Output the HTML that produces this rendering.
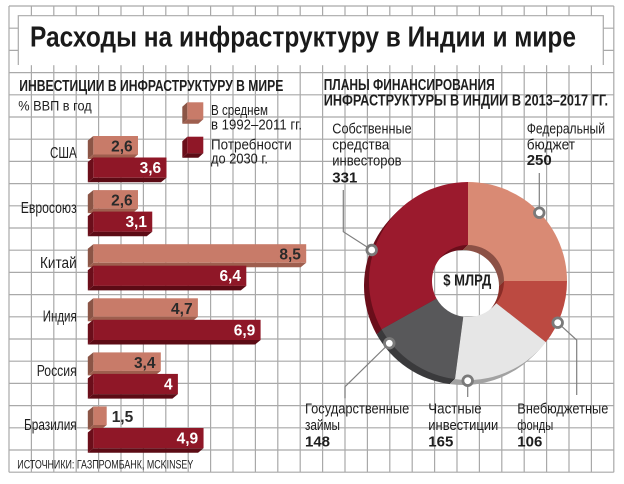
<!DOCTYPE html>
<html><head><meta charset="utf-8">
<style>
html,body{margin:0;padding:0;background:#fff;}
svg{display:block;}
text{font-family:"Liberation Sans","DejaVu Sans",sans-serif;fill:#1e1e1e;}
.b{font-weight:bold;}
</style></head>
<body>
<svg width="624" height="484" viewBox="0 0 624 484" xmlns="http://www.w3.org/2000/svg">
<rect width="624" height="484" fill="#fff"/>
<!-- grid -->
<path fill="none" stroke="#a9a9a9" stroke-width="1.2" d="
M9 6V472.2M31.4 6V472.2M53.8 6V472.2M76.2 6V472.2M98.6 6V472.2M121 6V472.2M143.4 6V472.2M165.8 6V472.2M188.2 6V472.2M210.6 6V472.2M233 6V472.2M255.4 6V472.2M277.8 6V472.2M300.2 6V472.2M322.6 6V472.2M345 6V472.2M367.4 6V472.2M389.8 6V472.2M412.2 6V472.2M434.6 6V472.2M457 6V472.2M479.4 6V472.2M501.8 6V472.2M524.2 6V472.2M546.6 6V472.2M569 6V472.2M591.4 6V472.2M613.8 6V472.2
M9 6H613.8M9 28.2H613.8M9 50.4H613.8M9 72.6H613.8M9 94.8H613.8M9 117H613.8M9 139.2H613.8M9 161.4H613.8M9 183.6H613.8M9 205.8H613.8M9 228H613.8M9 250.2H613.8M9 272.4H613.8M9 294.6H613.8M9 316.8H613.8M9 339H613.8M9 361.2H613.8M9 383.4H613.8M9 405.6H613.8M9 427.8H613.8M9 450H613.8M9 472.2H613.8"/>

<!-- title box -->
<rect x="18.3" y="15.7" width="585" height="49.5" fill="#fff"/>
<path d="M18.3 65V15.7H603.3V65" fill="none" stroke="#a9a9a9" stroke-width="1.2"/>
<text x="30" y="46.5" class="b" font-size="28.5" textLength="546" lengthAdjust="spacingAndGlyphs" style="fill:#1a1a1a">Расходы на инфраструктуру в Индии и мире</text>

<!-- headings -->
<text x="19.3" y="91" class="b" font-size="15.5" textLength="264" lengthAdjust="spacingAndGlyphs">ИНВЕСТИЦИИ В ИНФРАСТРУКТУРУ В МИРЕ</text>
<text x="18.3" y="110.5" font-size="13.5" textLength="73.4" lengthAdjust="spacingAndGlyphs">% ВВП в год</text>
<text x="323.7" y="90" class="b" font-size="15.5" textLength="171" lengthAdjust="spacingAndGlyphs">ПЛАНЫ ФИНАНСИРОВАНИЯ</text>
<text x="323.7" y="105.3" class="b" font-size="15.5" textLength="284.3" lengthAdjust="spacingAndGlyphs">ИНФРАСТРУКТУРЫ В ИНДИИ В 2013–2017 ГГ.</text>

<!-- legend -->
<rect x="187.3" y="102.3" width="16" height="17" fill="#c87b69"/>
<polygon points="187.3,102.3 182.3,106.8 182.3,123.8 187.3,119.3" fill="#8b5546"/>
<polygon points="187.3,119.3 203.3,119.3 198.3,123.8 182.3,123.8" fill="#9e5e4e"/>
<rect x="187.3" y="136.7" width="16" height="16.6" fill="#8f1727"/>
<polygon points="187.3,136.7 182.3,141.2 182.3,157.8 187.3,153.3" fill="#6b0e1a"/>
<polygon points="187.3,153.3 203.3,153.3 198.3,157.8 182.3,157.8" fill="#5c0b15"/>
<text x="211" y="115" font-size="15" textLength="57" lengthAdjust="spacingAndGlyphs">В среднем</text>
<text x="211" y="129.5" font-size="15" textLength="91" lengthAdjust="spacingAndGlyphs">в 1992–2011 гг.</text>
<text x="211" y="149.3" font-size="15" textLength="80.7" lengthAdjust="spacingAndGlyphs">Потребности</text>
<text x="211" y="163.3" font-size="15" textLength="57" lengthAdjust="spacingAndGlyphs">до 2030 г.</text>

<!-- bars -->
<g>
<rect x="93.3" y="136" width="44.7" height="18.5" fill="#c87b69"/>
<polygon points="93.3,136 87.8,140.5 87.8,159 93.3,154.5" fill="#8b5546"/>
<polygon points="93.3,154.5 138,154.5 132.5,159 87.8,159" fill="#9e5e4e"/>
<rect x="93.3" y="157.5" width="73.2" height="20.2" fill="#8f1727"/>
<polygon points="93.3,157.5 87.8,162 87.8,182.2 93.3,177.7" fill="#6b0e1a"/>
<polygon points="93.3,177.7 166.5,177.7 161,182.2 87.8,182.2" fill="#5c0b15"/>

<rect x="93.3" y="190.1" width="44.7" height="18.5" fill="#c87b69"/>
<polygon points="93.3,190.1 87.8,194.6 87.8,213.1 93.3,208.6" fill="#8b5546"/>
<polygon points="93.3,208.6 138,208.6 132.5,213.1 87.8,213.1" fill="#9e5e4e"/>
<rect x="93.3" y="211.6" width="58.95" height="20.2" fill="#8f1727"/>
<polygon points="93.3,211.6 87.8,216.1 87.8,236.3 93.3,231.8" fill="#6b0e1a"/>
<polygon points="93.3,231.8 152.25,231.8 146.75,236.3 87.8,236.3" fill="#5c0b15"/>

<rect x="93.3" y="244.2" width="212.9" height="18.5" fill="#c87b69"/>
<polygon points="93.3,244.2 87.8,248.7 87.8,267.2 93.3,262.7" fill="#8b5546"/>
<polygon points="93.3,262.7 306.2,262.7 300.7,267.2 87.8,267.2" fill="#9e5e4e"/>
<rect x="93.3" y="265.7" width="153" height="20.2" fill="#8f1727"/>
<polygon points="93.3,265.7 87.8,270.2 87.8,290.4 93.3,285.9" fill="#6b0e1a"/>
<polygon points="93.3,285.9 246.3,285.9 240.8,290.4 87.8,290.4" fill="#5c0b15"/>

<rect x="93.3" y="298.3" width="104.6" height="18.5" fill="#c87b69"/>
<polygon points="93.3,298.3 87.8,302.8 87.8,321.3 93.3,316.8" fill="#8b5546"/>
<polygon points="93.3,316.8 197.9,316.8 192.4,321.3 87.8,321.3" fill="#9e5e4e"/>
<rect x="93.3" y="319.8" width="167.3" height="20.2" fill="#8f1727"/>
<polygon points="93.3,319.8 87.8,324.3 87.8,344.5 93.3,340" fill="#6b0e1a"/>
<polygon points="93.3,340 260.6,340 255.1,344.5 87.8,344.5" fill="#5c0b15"/>

<rect x="93.3" y="352.4" width="67.5" height="18.5" fill="#c87b69"/>
<polygon points="93.3,352.4 87.8,356.9 87.8,375.4 93.3,370.9" fill="#8b5546"/>
<polygon points="93.3,370.9 160.8,370.9 155.3,375.4 87.8,375.4" fill="#9e5e4e"/>
<rect x="93.3" y="373.9" width="84.6" height="20.2" fill="#8f1727"/>
<polygon points="93.3,373.9 87.8,378.4 87.8,398.6 93.3,394.1" fill="#6b0e1a"/>
<polygon points="93.3,394.1 177.9,394.1 172.4,398.6 87.8,398.6" fill="#5c0b15"/>

<rect x="93.3" y="406.5" width="13.4" height="18.5" fill="#c87b69"/>
<polygon points="93.3,406.5 87.8,411 87.8,429.5 93.3,425" fill="#8b5546"/>
<polygon points="93.3,425 106.7,425 101.2,429.5 87.8,429.5" fill="#9e5e4e"/>
<rect x="93.3" y="428" width="110.25" height="20.2" fill="#8f1727"/>
<polygon points="93.3,428 87.8,432.5 87.8,452.7 93.3,448.2" fill="#6b0e1a"/>
<polygon points="93.3,448.2 203.55,448.2 198.05,452.7 87.8,452.7" fill="#5c0b15"/>
</g>

<!-- country labels -->
<text x="50" y="158" font-size="15.5" textLength="26.7" lengthAdjust="spacingAndGlyphs">США</text>
<text x="20.7" y="213" font-size="15.5" textLength="56" lengthAdjust="spacingAndGlyphs">Евросоюз</text>
<text x="40" y="268" font-size="15.5" textLength="36.7" lengthAdjust="spacingAndGlyphs">Китай</text>
<text x="42.7" y="321.7" font-size="15.5" textLength="34" lengthAdjust="spacingAndGlyphs">Индия</text>
<text x="36.7" y="376" font-size="15.5" textLength="40" lengthAdjust="spacingAndGlyphs">Россия</text>
<text x="24" y="430" font-size="15.5" textLength="52.7" lengthAdjust="spacingAndGlyphs">Бразилия</text>

<!-- value labels -->
<g font-size="15.5" text-anchor="end" style="font-weight:bold">
<text x="132.7" y="151.5" style="fill:#2a2a2a">2,6</text>
<text x="161.2" y="173" style="fill:#fff">3,6</text>
<text x="132.7" y="205.6" style="fill:#2a2a2a">2,6</text>
<text x="147" y="227.1" style="fill:#fff">3,1</text>
<text x="300.9" y="259.7" style="fill:#2a2a2a">8,5</text>
<text x="241" y="281.2" style="fill:#fff">6,4</text>
<text x="192.6" y="313.8" style="fill:#2a2a2a">4,7</text>
<text x="255.3" y="335.3" style="fill:#fff">6,9</text>
<text x="155.5" y="367.9" style="fill:#2a2a2a">3,4</text>
<text x="172.6" y="389.4" style="fill:#fff">4</text>
<text x="198.2" y="443.5" style="fill:#fff">4,9</text>
</g>
<text x="111.7" y="422" class="b" font-size="15.5" style="fill:#2a2a2a">1,5</text>

<!-- sources -->
<text x="17.3" y="468.3" font-size="12" textLength="176" lengthAdjust="spacingAndGlyphs">ИСТОЧНИКИ: ГАЗПРОМБАНК, MCKINSEY</text>

<!-- donut -->
<defs>
<g id="db">
<path d="M468,182 A99,99 0 0 1 567,281 L504,281 A36,36 0 0 0 468,245 Z" fill="#8c5045"/>
<path d="M567,281 A99,99 0 0 1 545.85,342.16 L496.31,303.24 A36,36 0 0 0 504,281 Z" fill="#8a2e28"/>
<path d="M545.85,342.16 A99,99 0 0 1 454.97,379.14 L463.26,316.69 A36,36 0 0 0 496.31,303.24 Z" fill="#a2a2a2"/>
<path d="M454.97,379.14 A99,99 0 0 1 381.54,329.24 L436.56,298.54 A36,36 0 0 0 463.26,316.69 Z" fill="#3a3a3c"/>
<path d="M381.54,329.24 A99,99 0 0 1 468,182 L468,245 A36,36 0 0 0 436.56,298.54 Z" fill="#6a0e1b"/>
</g>
</defs>
<use href="#db" transform="translate(-5,5)"/>
<use href="#db" transform="translate(-4,4)"/>
<use href="#db" transform="translate(-3,3)"/>
<use href="#db" transform="translate(-2,2)"/>
<use href="#db" transform="translate(-1,1)"/>
<path d="M468,182 A99,99 0 0 1 567,281 L504,281 A36,36 0 0 0 468,245 Z" fill="#d98a74"/>
<path d="M567,281 A99,99 0 0 1 545.85,342.16 L496.31,303.24 A36,36 0 0 0 504,281 Z" fill="#bc4a41"/>
<path d="M545.85,342.16 A99,99 0 0 1 454.97,379.14 L463.26,316.69 A36,36 0 0 0 496.31,303.24 Z" fill="#e6e6e6"/>
<path d="M454.97,379.14 A99,99 0 0 1 381.54,329.24 L436.56,298.54 A36,36 0 0 0 463.26,316.69 Z" fill="#58585a"/>
<path d="M381.54,329.24 A99,99 0 0 1 468,182 L468,245 A36,36 0 0 0 436.56,298.54 Z" fill="#9b1a2d"/>

<text x="443.3" y="285.5" class="b" font-size="16" textLength="48" lengthAdjust="spacingAndGlyphs">$ МЛРД</text>

<!-- callout lines -->
<g fill="none" stroke="#7f7f7f" stroke-width="1.2">
<path d="M539.3 207V173"/>
<path d="M371.7 250L343.3 231.7V190"/>
<path d="M557.7 322.7L576.7 340V395"/>
<path d="M467.7 380.7V397"/>
<path d="M389.3 343.3L345 386.7V398.3"/>
</g>
<g fill="#fff" stroke="#7a7a7a" stroke-width="2.8">
<circle cx="539.3" cy="212.7" r="4.8"/>
<circle cx="371.7" cy="250" r="4.8"/>
<circle cx="557.7" cy="322.7" r="4.8"/>
<circle cx="467.7" cy="380.7" r="4.8"/>
<circle cx="389.3" cy="343.3" r="4.8"/>
</g>

<!-- pie labels -->
<text x="332.3" y="133.3" font-size="15" textLength="79.4" lengthAdjust="spacingAndGlyphs">Собственные</text>
<text x="332.3" y="149.3" font-size="15" textLength="57" lengthAdjust="spacingAndGlyphs">средства</text>
<text x="332.3" y="165.5" font-size="15" textLength="69.3" lengthAdjust="spacingAndGlyphs">инвесторов</text>
<text x="332.3" y="182.5" class="b" font-size="15">331</text>

<text x="526.7" y="133.3" font-size="15" textLength="78.3" lengthAdjust="spacingAndGlyphs">Федеральный</text>
<text x="526.7" y="149.3" font-size="15" textLength="48.3" lengthAdjust="spacingAndGlyphs">бюджет</text>
<text x="526.7" y="165" class="b" font-size="15">250</text>

<text x="305" y="413.3" font-size="15" textLength="104.3" lengthAdjust="spacingAndGlyphs">Государственные</text>
<text x="305" y="430" font-size="15" textLength="35" lengthAdjust="spacingAndGlyphs">займы</text>
<text x="305" y="446.7" class="b" font-size="15">148</text>

<text x="428.3" y="413.3" font-size="15" textLength="53.4" lengthAdjust="spacingAndGlyphs">Частные</text>
<text x="428.3" y="430" font-size="15" textLength="70" lengthAdjust="spacingAndGlyphs">инвестиции</text>
<text x="428.3" y="446.7" class="b" font-size="15">165</text>

<text x="517.3" y="413.3" font-size="15" textLength="91" lengthAdjust="spacingAndGlyphs">Внебюджетные</text>
<text x="517.3" y="430" font-size="15" textLength="36" lengthAdjust="spacingAndGlyphs">фонды</text>
<text x="517.3" y="446.7" class="b" font-size="15">106</text>
</svg>
</body></html>
